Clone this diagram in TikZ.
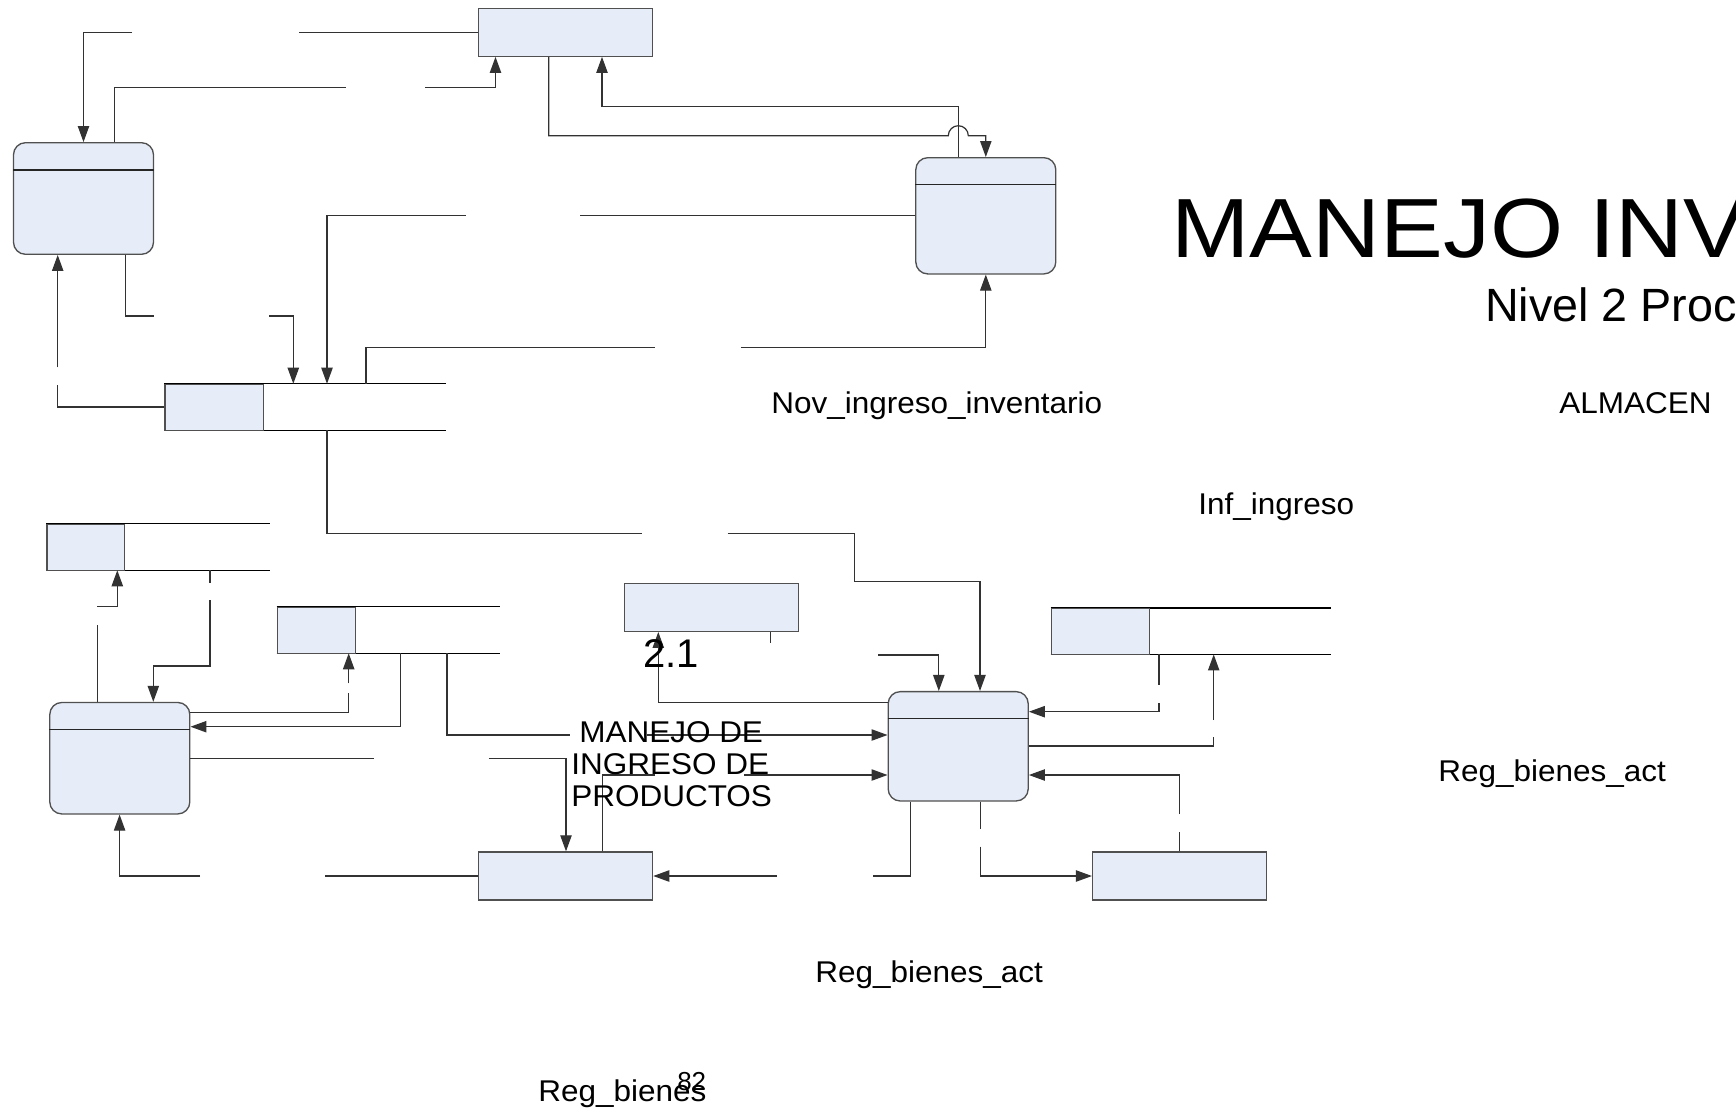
\documentclass[tikz,border=0pt]{standalone}
\usepackage{fontspec}
\setmainfont{Liberation Sans}
\newfontfamily\lblfont[FakeStretch=1.05]{Liberation Sans}
\newfontfamily\ttlfont[FakeStretch=1.12]{Liberation Sans}
\usetikzlibrary{arrows.meta}
\definecolor{boxfill}{RGB}{230,237,248}
\definecolor{boxline}{RGB}{80,80,80}
\definecolor{connline}{RGB}{50,50,50}
\tikzset{
  conn/.style={draw=connline, line width=0.9pt},
  arr/.style={-{Triangle[length=12pt,width=8.5pt]}},
  entity/.style={draw=boxline, fill=boxfill, line width=1pt, inner sep=0pt, minimum width=130.5pt, minimum height=36pt},
  proc/.style={draw=boxline, fill=boxfill, line width=1pt, rounded corners=9pt, inner sep=0pt, minimum width=105pt},
  hdr/.style={draw=black!85, line width=1pt},
  storearea/.style={inner sep=0pt, minimum height=34.5pt},
  storeid/.style={draw=boxline, fill=boxfill, line width=1pt, inner sep=0pt, anchor=north west, minimum height=34.5pt},
  storeline/.style={draw=black, line width=1pt},
  lbl/.style={font=\lblfont\fontsize{22.5}{27}\selectfont, inner sep=0pt, anchor=base west},
}
\begin{document}
\begin{tikzpicture}[x=0.75pt,y=-0.75pt]
\useasboundingbox (0,0) rectangle (1736,1111);
\fill[white] (0,0) rectangle (1736,1111);

% ---------- entities ----------
\node[entity] (eT)  at (565.6,32.2) {};
\node[entity] (e21) at (711.6,607.3) {};
\node[entity] (eBM) at (565.6,876) {};
\node[entity] (eBR) at (1179.6,876) {};

% ---------- processes ----------
\node[proc, minimum height=83.7pt] (p1) at (83.5,198.5) {};
\node[proc, minimum height=87.2pt] (p2) at (985.8,215.8) {};
\node[proc, minimum height=83.6pt] (p3) at (119.8,758.2) {};
\node[proc, minimum height=82pt]   (p4) at (958.2,746.3) {};
\draw[hdr] (p1.west |- 0,170) -- (p1.east |- 0,170);
\draw[hdr] (p2.west |- 0,184.3) -- (p2.east |- 0,184.3);
\draw[hdr] (p3.west |- 0,729.3) -- (p3.east |- 0,729.3);
\draw[hdr] (p4.west |- 0,718.3) -- (p4.east |- 0,718.3);

% ---------- data stores ----------
\node[storearea, minimum width=211pt]   (s1) at (305.35,407) {};
\node[storearea, minimum width=167.5pt] (s2) at (158.35,547) {};
\node[storearea, minimum width=167.4pt] (s3) at (388.4,630) {};
\node[storearea, minimum width=210pt]   (s4) at (1191,631.2) {};
\foreach \s in {s1,s2,s3,s4}{
  \draw[storeline] (\s.north west) -- (\s.north east) (\s.south west) -- (\s.south east);
}
\node[storeid, minimum width=73.7pt] (s1id) at (s1.north west) {};
\node[storeid, minimum width=58.2pt] (s2id) at (s2.north west) {};
\node[storeid, minimum width=58.7pt] (s3id) at (s3.north west) {};
\node[storeid, minimum width=73.5pt] (s4id) at (s4.north west) {};

% ---------- connectors ----------
% C1
\draw[conn] (eT.west) -- (299,32.2);
\draw[conn,arr] (132,32.2) -- (83.5,32.2) -- (p1.north);
% C2
\draw[conn] (p1.north -| 114.3,0) -- (114.3,87.3) -- (346,87.3);
\draw[conn,arr] (425,87.3) -- (495.5,87.3) -- (eT.south -| 495.5,0);
% C3 (with hop)
\draw[conn,arr] (eT.south -| 548.7,0) -- (548.7,135.7) -- (948.3,135.7)
   arc[start angle=180,end angle=0,radius=7.5pt] -- (985.8,135.7) -- (p2.north);
% C4
\draw[conn,arr] (p2.north -| 958.3,0) -- (958.3,106.7) -- (602,106.7) -- (eT.south -| 602,0);
% C5
\draw[conn] (p1.south -| 125.4,0) -- (125.4,316) -- (153.6,316);
\draw[conn,arr] (269,316) -- (293.3,316) -- (s1.north -| 293.3,0);
% C6
\draw[conn] (p2.west |- 0,215.7) -- (580,215.7);
\draw[conn,arr] (465.6,215.7) -- (327,215.7) -- (s1.north -| 327,0);
% C7
\draw[conn] (s1.north -| 366,0) -- (366,347.7) -- (655,347.7);
\draw[conn,arr] (740.8,347.7) -- (985.8,347.7) -- (p2.south);
% C8
\draw[conn] (s1.west) -- (57.7,407) -- (57.7,385);
\draw[conn,arr] (57.7,367.3) -- (p1.south -| 57.7,0);
% C9
\draw[conn] (s1.south -| 327,0) -- (327,533.3) -- (642,533.3);
\draw[conn,arr] (727.6,533.3) -- (854.6,533.3) -- (854.6,581.7) -- (980,581.7) -- (p4.north -| 980,0);
% C10
\draw[conn] (p3.north -| 97.3,0) -- (97.3,625);
\draw[conn,arr] (97.3,606.7) -- (117.3,606.7) -- (s2.south -| 117.3,0);
% C11
\draw[conn] (s2.south -| 210,0) -- (210,582.7);
\draw[conn,arr] (210,600) -- (210,666) -- (153.3,666) -- (p3.north -| 153.3,0);
% C12
\draw[conn] (p3.east |- 0,712.3) -- (348.7,712.3) -- (348.7,693.3);
\draw[conn,arr] (348.7,683.3) -- (s3.south -| 348.7,0);
% C13
\draw[conn,arr] (s3.south -| 400.4,0) -- (400.4,726.7) -- (p3.east |- 0,726.7);
% C14
\draw[conn] (s3.south -| 446.9,0) -- (446.9,735) -- (570,735);
\draw[conn,arr] (647,735) -- (p4.west |- 0,735);
% C15
\draw[conn] (p3.east |- 0,758.3) -- (373.7,758.3);
\draw[conn,arr] (488.8,758.3) -- (566,758.3) -- (eBM.north -| 566,0);
% C16
\draw[conn] (eBM.north -| 602.7,0) -- (602.7,775) -- (654.6,775);
\draw[conn,arr] (744,775) -- (p4.west |- 0,775);
% C17
\draw[conn,arr] (p4.west |- 0,702.7) -- (658.3,702.7) -- (e21.south -| 658.3,0);
% C18
\draw[conn] (e21.south -| 770.7,0) -- (770.7,642.7);
\draw[conn,arr] (878.3,655) -- (938.8,655) -- (p4.north -| 938.8,0);
% C19
\draw[conn] (s4.south -| 1159,0) -- (1159,685);
\draw[conn,arr] (1159,703.3) -- (1159,711.7) -- (p4.east |- 0,711.7);
% C20
\draw[conn] (p4.east |- 0,746) -- (1213.7,746) -- (1213.7,736.7);
\draw[conn,arr] (1213.7,720) -- (s4.south -| 1213.7,0);
% C21
\draw[conn] (eBR.north -| 1179.7,0) -- (1179.7,832.3);
\draw[conn,arr] (1179.7,814) -- (1179.7,775) -- (p4.east |- 0,775);
% C22
\draw[conn] (p4.south -| 980.7,0) -- (980.7,829.3);
\draw[conn,arr] (980.7,846.7) -- (980.7,876) -- (eBR.west);
% C23
\draw[conn] (p4.south -| 910.7,0) -- (910.7,876) -- (873.3,876);
\draw[conn,arr] (777,876) -- (eBM.east);
% C24
\draw[conn] (eBM.west) -- (325,876);
\draw[conn,arr] (200,876) -- (119.6,876) -- (p3.south -| 119.6,0);

% ---------- texts ----------
\begin{scope}
\clip (0,0) rectangle (1736,1111);
\node[inner sep=0pt, anchor=base west, font=\ttlfont\fontsize{63}{70}\selectfont] (title) at (1171,257) {MANEJO INV};
\node[inner sep=0pt, anchor=base west, font=\fontsize{35}{40}\selectfont] (subtitle) at (1485,321) {Nivel 2 Proc};
\end{scope}
\node[lbl] (tNov) at (771,413) {Nov\_ingreso\_inventario};
\node[lbl] (tAlm) at (1559,413) {ALMACEN};
\node[lbl] (tInf) at (1198,514) {Inf\_ingreso};
\node[lbl] (tRba1) at (1438,781) {Reg\_bienes\_act};
\node[lbl] (tRba2) at (815,982) {Reg\_bienes\_act};
\node[lbl] (tRb) at (538,1101) {Reg\_bienes};
\node[inner sep=0pt, anchor=base west, font=\fontsize{19.5}{22}\selectfont] (tPg) at (677,1090) {82};
\node[inner sep=0pt, anchor=base west, font=\fontsize{30}{34}\selectfont] (t21) at (643,667) {2.1};
\node[lbl] (tM1) at (579,742) {MANEJO DE};
\node[lbl] (tM2) at (571,774) {INGRESO DE};
\node[lbl] (tM3) at (571,806) {PRODUCTOS};
\end{tikzpicture}
\end{document}
